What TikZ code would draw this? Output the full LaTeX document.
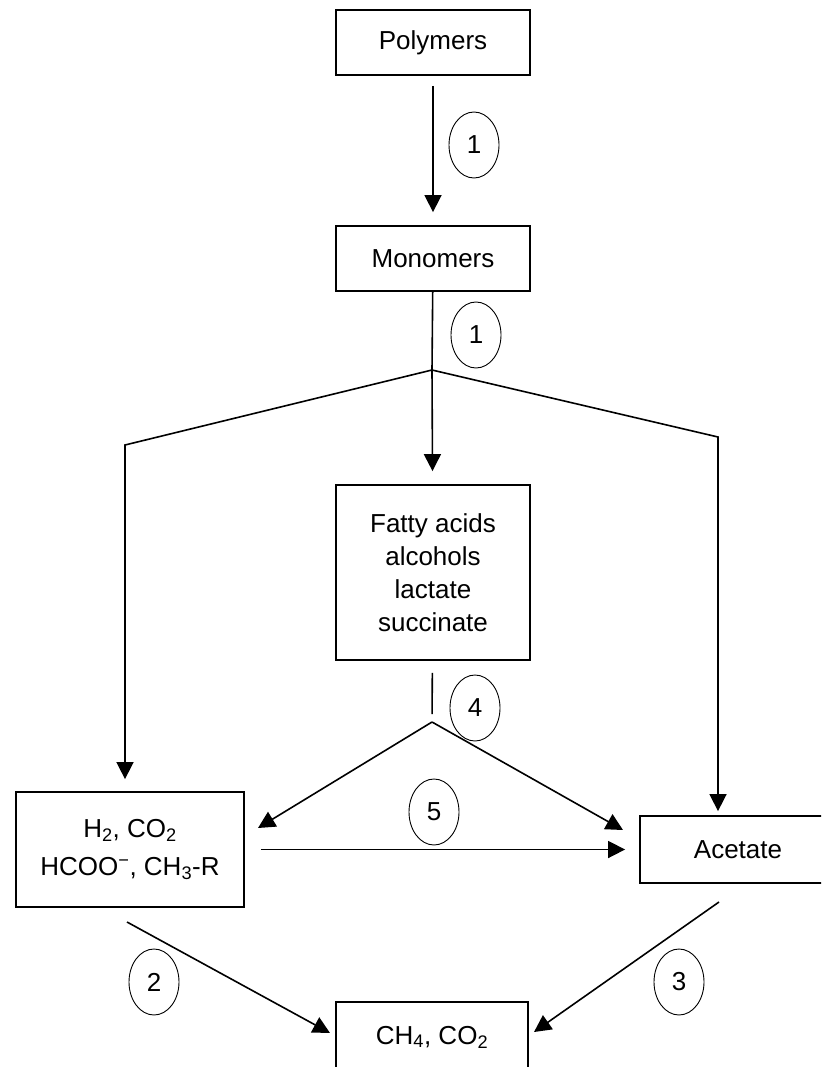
\documentclass[tikz,border=0pt]{standalone}
\usepackage{fontspec}
\setmainfont{Liberation Sans}
\usetikzlibrary{arrows.meta,shapes.geometric}
\begin{document}
\begin{tikzpicture}[x=1pt,y=-1pt,
        every node/.style={font=\fontsize{26}{33}\selectfont},
        box/.style={draw,line width=1.8pt,minimum width=194pt,minimum height=65pt,align=center,inner sep=0pt},
        stage/.style={draw,ellipse,line width=0.9pt,minimum width=50pt,minimum height=66pt,inner sep=0pt},
        arr/.style={line width=1.6pt,-{Triangle[width=17pt,length=17pt]}},
        plain/.style={line width=1.6pt}]
        \clip (0,0) rectangle (821,1067);
        % boxes
        \node[box] (poly) at (433,42.5) {Polymers};
        \node[box] (mono) at (433,258.5) {Monomers};
        \node[box,minimum height=175pt] (fatty) at (433,572.5) {Fatty acids\\alcohols\\lactate\\succinate};
        \node[box,minimum width=228pt,minimum height=115pt] (htwo) at (130,849.5)
                {H\textsubscript{2}, CO\textsubscript{2}\\[5pt]HCOO\textsuperscript{−}, CH\textsubscript{3}-R};
        \node[box,minimum width=196pt,minimum height=67pt] (ace) at (738,849.5) {Acetate};
        \node[box,minimum width=192pt,minimum height=70pt] (meth) at (432,1037) {CH\textsubscript{4}, CO\textsubscript{2}};
        % stage numbers
        \node[stage] (sa) at (474,145) {1};
        \node[stage] (sb) at (476,335) {1};
        \node[stage] (sd) at (475,708) {4};
        \node[stage] (se) at (434,812) {5};
        \node[stage] (sf) at (154,982) {2};
        \node[stage] (sg) at (679,982) {3};
        % junctions
        \coordinate (j1) at (432,370);
        \coordinate (kl) at (125,445);
        \coordinate (kr) at (718,437);
        \coordinate (j2) at (432,722);
        \coordinate (t4l) at (258,828);
        \coordinate (t4r) at (623,830);
        \coordinate (a2) at (127,922);
        \coordinate (b2) at (330,1033);
        \coordinate (a3) at (719,902);
        \coordinate (b3) at (534,1032);
        % connectors
        \draw[arr,shorten <=10pt,shorten >=13pt] (poly) -- (mono);
        \draw[plain] (mono) -- (j1);
        \draw[arr,shorten >=13pt] (j1) -- (fatty);
        \draw[arr,shorten >=12pt] (j1) -- (kl) -- (kl |- htwo.north);
        \draw[arr,shorten >=4pt] (j1) -- (kr) -- (kr |- ace.north);
        \draw[plain,shorten <=12pt,shorten >=8pt] (fatty) -- (j2);
        \draw[arr] (j2) -- (t4l);
        \draw[arr] (j2) -- (t4r);
        \draw[arr,shorten <=16pt,shorten >=14pt] (htwo) -- (ace);
        \draw[arr] (a2) -- (b2);
        \draw[arr] (a3) -- (b3);
\end{tikzpicture}
\end{document}
